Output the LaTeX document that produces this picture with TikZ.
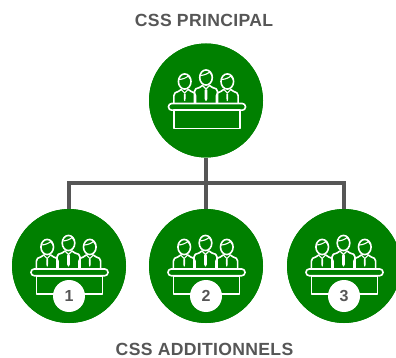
\documentclass[tikz,border=0pt]{standalone}
\usepackage{fontspec}
\setmainfont{Liberation Sans}
\newfontfamily\headfont[LetterSpace=1.8]{Liberation Sans}
\definecolor{cssgreen}{HTML}{008000}
\definecolor{cssgray}{HTML}{565656}
\tikzset{
  x=1pt,y=-1pt,
  csscircle/.style={circle,fill=cssgreen,minimum size=114pt,inner sep=0pt,draw=none},
  numdisc/.style={circle,fill=white,minimum size=32pt,inner sep=0pt,text=cssgray,font=\bfseries\fontsize{16}{16}\selectfont},
  heading/.style={text=cssgray,font=\headfont\bfseries\fontsize{17.6}{18}\selectfont,inner sep=0pt},
  link/.style={draw=cssgray,line width=3.6pt},
  iconline/.style={draw=white,line width=1.6pt,line join=round,line cap=round},
  thinline/.style={draw=white,line width=1.1pt,line join=round,line cap=round},
}
\newcommand{\person}[5]{% x, y of head centre, half body width, body bottom offset, tie half width
  \begin{scope}[shift={(#1,#2)}]
    \draw[iconline] (0,0) ellipse (6.3 and 7.6);
    \draw[thinline] (-6,-2) .. controls (-2,-2) and (2,-4) .. (3.5,-5.5) .. controls (4.5,-4.5) and (5.5,-3.5) .. (6,-2);
    \draw[iconline] (-#3,#4) -- (-#3,14) .. controls (-#3,11.5) and (-#3+2,10.5) .. (-6.5,10) -- (-3.5,8);
    \draw[iconline] (#3,#4) -- (#3,14) .. controls (#3,11.5) and (#3-2,10.5) .. (6.5,10) -- (3.5,8);
    \draw[thinline] (-3.5,8) -- (0,11.5) -- (3.5,8);
    \draw[thinline,fill=white] (-#5,12.5) -- (-#5,#4-5) -- (0,#4-3) -- (#5,#4-5) -- (#5,12.5) -- cycle;
  \end{scope}}
\newcommand{\cssicon}[2]{%
  \begin{scope}[shift={(#1,#2)}]
    \person{-21.8}{-19}{10.8}{22}{0.3}
    \person{20.8}{-19}{10.8}{22}{0.3}
    \person{-0.5}{-23}{11.5}{26}{0.9}
    \draw[iconline,fill=cssgreen,rounded corners=3.2pt] (-38,3) rectangle (39,9.7);
    \draw[iconline] (-32.5,9.7) rectangle (33.5,28);
  \end{scope}}
\begin{document}
\begin{tikzpicture}
\useasboundingbox (0,0) rectangle (396,358);
\node[heading] (title) at (204,20.5) {CSS PRINCIPAL};
\node[heading] (subtitle) at (204.5,349.5) {CSS ADDITIONNELS};
\coordinate (bus) at (206,183);
\node[csscircle] (main) at (206,100.5) {};
\node[csscircle] (a) at (69,266) {};
\node[csscircle] (b) at (206,266) {};
\node[csscircle] (c) at (344,266) {};
\draw[link] (main.south) -- (b.north);
\draw[link] (a.north) -- (a.north |- bus) -- (c.north |- bus) -- (c.north);
\node[csscircle] at (main) {};
\node[csscircle] at (a) {};
\node[csscircle] at (b) {};
\node[csscircle] at (c) {};
\cssicon{206.5}{100.5}
\cssicon{69}{266}
\cssicon{206}{266}
\cssicon{344}{266}
\node[numdisc] (n1) at (69,296) {1};
\node[numdisc] (n2) at (206,296) {2};
\node[numdisc] (n3) at (344,296) {3};
\end{tikzpicture}
\end{document}
